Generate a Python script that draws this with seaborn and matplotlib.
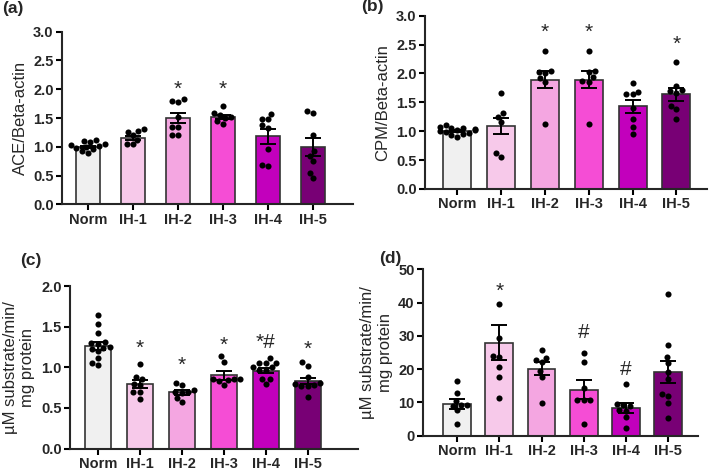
import numpy as np
import pandas as pd
import matplotlib
matplotlib.use('Agg')
import matplotlib.pyplot as plt
import seaborn as sns

# Kelompok dan warna
groups = ['Norm', 'IH-1', 'IH-2', 'IH-3', 'IH-4', 'IH-5']
colors = ['#f0f0f0', '#f7c9ea', '#f4a6e1', '#f54dd5', '#c200bc', '#780075']

# (a) ACE/Beta-actin
ace_pts = {
    'Norm': [1.12, 1.10, 1.08, 1.05, 1.03, 1.01, 1.00, 0.98, 0.96, 0.92, 0.90],
    'IH-1': [1.31, 1.27, 1.26, 1.20, 1.12, 1.05, 1.04],
    'IH-2': [1.83, 1.80, 1.78, 1.52, 1.35, 1.35, 1.21, 1.21],
    'IH-3': [1.70, 1.58, 1.56, 1.52, 1.50, 1.45, 1.40],
    'IH-4': [1.57, 1.49, 1.48, 1.38, 1.33, 0.96, 0.69, 0.67],
    'IH-5': [1.62, 1.58, 1.21, 0.92, 0.84, 0.75, 0.54, 0.45],
}
ace_mean = [1.00, 1.15, 1.50, 1.52, 1.18, 1.00]
ace_sem = [0.02, 0.04, 0.09, 0.04, 0.13, 0.16]
ace_marks = [('IH-2', 2.0, '*'), ('IH-3', 2.0, '*')]

# (b) CPM/Beta-actin
cpm_pts = {
    'Norm': [1.10, 1.07, 1.06, 1.05, 1.04, 1.03, 1.02, 1.00, 0.99, 0.97, 0.95, 0.93, 0.90],
    'IH-1': [1.66, 1.32, 1.25, 1.16, 0.62, 0.56],
    'IH-2': [2.39, 2.04, 2.03, 2.00, 1.92, 1.86, 1.12],
    'IH-3': [2.39, 2.04, 2.03, 1.94, 1.87, 1.86, 1.12],
    'IH-4': [1.83, 1.68, 1.64, 1.64, 1.40, 1.22, 1.07, 0.96],
    'IH-5': [2.19, 1.79, 1.71, 1.70, 1.67, 1.44, 1.38, 1.22],
}
cpm_mean = [1.01, 1.09, 1.89, 1.89, 1.43, 1.64]
cpm_sem = [0.015, 0.145, 0.145, 0.145, 0.115, 0.11]
cpm_marks = [('IH-2', 2.72, '*'), ('IH-3', 2.72, '*'), ('IH-5', 2.50, '*')]

# (c) aktivitas 1
c_pts = {
    'Norm': [1.64, 1.53, 1.42, 1.31, 1.30, 1.29, 1.25, 1.24, 1.22, 1.20, 1.12, 1.05, 1.03],
    'IH-1': [1.04, 0.88, 0.85, 0.80, 0.78, 0.70, 0.69, 0.61],
    'IH-2': [0.81, 0.78, 0.72, 0.70, 0.69, 0.68, 0.62, 0.57],
    'IH-3': [1.14, 1.07, 0.86, 0.86, 0.85, 0.84, 0.83, 0.78],
    'IH-4': [1.11, 1.05, 1.05, 1.05, 1.00, 1.00, 0.97, 0.97, 0.86, 0.86, 0.80],
    'IH-5': [1.06, 1.02, 0.88, 0.81, 0.80, 0.78, 0.77, 0.77, 0.64],
}
c_mean = [1.26, 0.79, 0.69, 0.90, 0.96, 0.83]
c_sem = [0.05, 0.05, 0.03, 0.06, 0.03, 0.04]
c_marks = [('IH-1', 1.23, '*'), ('IH-2', 1.02, '*'), ('IH-3', 1.27, '*'),
           ('IH-4', 1.30, '*#'), ('IH-5', 1.22, '*')]

# (d) aktivitas 2
d_pts = {
    'Norm': [16.5, 12.7, 10.5, 9.2, 9.2, 9.0, 7.7, 3.4],
    'IH-1': [39.5, 29.5, 24.0, 23.7, 20.7, 17.7, 11.2],
    'IH-2': [25.8, 23.3, 22.8, 22.0, 19.5, 17.7, 9.7],
    'IH-3': [24.7, 22.2, 14.2, 10.7, 10.7, 10.7, 3.4],
    'IH-4': [15.6, 9.5, 9.3, 9.0, 7.7, 7.5, 5.5, 2.2],
    'IH-5': [42.5, 27.2, 23.7, 21.9, 19.2, 17.0, 12.6, 12.0, 9.9, 5.4],
}
d_mean = [9.5, 27.9, 20.1, 13.8, 8.4, 19.1]
d_sem = [1.5, 5.3, 2.0, 2.8, 1.5, 3.3]
d_marks = [('IH-1', 43.5, '*'), ('IH-3', 31.0, '#'), ('IH-4', 20.0, '#')]

sns.set_style('ticks')
plt.rcParams['font.family'] = ['Liberation Sans', 'DejaVu Sans']

W, H = 709, 470
fig = plt.figure(figsize=(W / 100, H / 100), dpi=100)


def make_ax(left, right, top, bottom):
    return fig.add_axes([left / W, 1 - bottom / H, (right - left) / W, (bottom - top) / H])


def panel(ax, pts, means, sems, marks, ylim, yticks, fmt, ylabel, xlim, width, tag, tagpos):
    sns.barplot(x=groups, y=means, hue=groups, palette=colors, legend=False, saturation=1,
                width=width, edgecolor='#333333', linewidth=1.2, ax=ax, zorder=1)
    ax.errorbar(np.arange(len(groups)), means, yerr=sems, fmt='none',
                ecolor='black', elinewidth=1.4, capsize=5.5, capthick=1.4, zorder=3)
    df = pd.DataFrame([(g, v) for g in groups for v in pts[g]], columns=['grup', 'nilai'])
    sns.swarmplot(data=df, x='grup', y='nilai', order=groups, color='black',
                  size=4.4, ax=ax, zorder=4, warn_thresh=1)
    for g, y, s in marks:
        ax.text(groups.index(g), y, s, ha='center', va='center', fontsize=15)
    ax.set_ylim(*ylim)
    ax.set_yticks(yticks)
    ax.set_yticklabels([fmt.format(t) for t in yticks])
    ax.set_xlim(*xlim)
    ax.set_xlabel('')
    ax.set_ylabel(ylabel, fontsize=12)
    for s in ['top', 'right']:
        ax.spines[s].set_visible(False)
    for s in ['left', 'bottom']:
        ax.spines[s].set_linewidth(1.5)
    ax.tick_params(width=1.5, length=4, pad=2, labelsize=10.5, color='black')
    for lab in ax.get_xticklabels() + ax.get_yticklabels():
        lab.set_fontweight('bold')
    fig.text(tagpos[0] / W, 1 - tagpos[1] / H, tag, fontsize=12.5, fontweight='bold',
             ha='left', va='center')


ax_a = make_ax(62, 353, 31.7, 204.3)
panel(ax_a, ace_pts, ace_mean, ace_sem, ace_marks, (0, 3.0), np.arange(0, 3.01, 0.5),
      '{:.1f}', 'ACE/Beta-actin', (-0.58, 5.89), 0.55, '(a)', (2, 8))

ax_b = make_ax(425, 707, 15.7, 189)
panel(ax_b, cpm_pts, cpm_mean, cpm_sem, cpm_marks, (0, 3.0), np.arange(0, 3.01, 0.5),
      '{:.1f}', 'CPM/Beta-actin', (-0.74, 5.7), 0.64, '(b)', (361, 7))

ax_c = make_ax(70, 358, 286, 448.5)
panel(ax_c, c_pts, c_mean, c_sem, c_marks, (0, 2.0), np.arange(0, 2.01, 0.5),
      '{:.1f}', 'µM substrate/min/\nmg protein', (-0.66, 6.2), 0.62, '(c)', (20, 260))

ax_d = make_ax(423, 698, 269.3, 435.7)
panel(ax_d, d_pts, d_mean, d_sem, d_marks, (0, 50), np.arange(0, 51, 10),
      '{:.0f}', 'µM substrate/min/\nmg protein', (-0.81, 5.71), 0.66, '(d)', (379, 259))

fig.savefig('out.png', dpi=100, facecolor='white')
plt.close(fig)
